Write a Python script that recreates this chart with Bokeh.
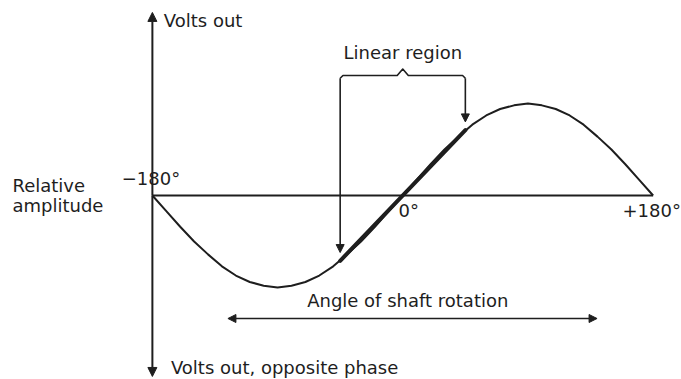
from bokeh.plotting import figure
from bokeh.models import ColumnDataSource, Range1d, Arrow, NormalHead
from bokeh.core.properties import value
from bokeh.embed import file_html
from bokeh.resources import INLINE

# ---- data ----
ANGLE_DEG = [-180, -170, -160, -150, -140, -130, -120, -110, -100, -90,
             -80, -70, -60, -50, -40, -30, -20, -10, 0,
             10, 20, 30, 40, 50, 60, 70, 80, 90,
             100, 110, 120, 130, 140, 150, 160, 170, 180]
AMPLITUDE = [0.00, -0.17, -0.34, -0.50, -0.64, -0.77, -0.87, -0.94, -0.98, -1.00,
             -0.98, -0.94, -0.87, -0.77, -0.64, -0.50, -0.34, -0.17, 0.00,
             0.17, 0.34, 0.50, 0.64, 0.77, 0.87, 0.94, 0.98, 1.00,
             0.98, 0.94, 0.87, 0.77, 0.64, 0.50, 0.34, 0.17, 0.00]
LINEAR_DEG = [-45, 45]
LINEAR_AMP = [-0.71, 0.71]
TICK_DEG = [-180, 0, 180]
TICK_LABELS = ["\u2212180\u00b0", "0\u00b0", "+180\u00b0"]
Y_LABEL = ["Relative", "amplitude"]
TOP_LABEL = "Volts out"
BOTTOM_LABEL = "Volts out, opposite phase"
REGION_LABEL = "Linear region"
X_LABEL = "Angle of shaft rotation"

INK = "#1e1e1e"
FONT = "DejaVu Sans"
FS = "18px"

p = figure(width=681, height=379, output_backend="svg", toolbar_location=None,
           x_range=Range1d(-289.2, 200.4), y_range=Range1d(-2.0, 2.1196),
           min_border=0, x_axis_type=None, y_axis_type=None)
p.outline_line_color = None
p.grid.visible = False
p.background_fill_color = "white"
p.border_fill_color = "white"

def head(s=8):
    return NormalHead(size=s, fill_color=INK, line_color=INK, line_width=1)

# baseline
p.line(x=[TICK_DEG[0], TICK_DEG[-1]], y=[0, 0], line_color=INK, line_width=2)

# vertical axis with arrows on both ends
p.add_layout(Arrow(x_start=-180, y_start=0, x_end=-180, y_end=1.99,
                   line_color=INK, line_width=2, end=head(9)))
p.add_layout(Arrow(x_start=-180, y_start=0, x_end=-180, y_end=-1.967,
                   line_color=INK, line_width=2, end=head(9)))

# curve
src = ColumnDataSource(dict(x=ANGLE_DEG, y=AMPLITUDE))
p.line("x", "y", source=src, line_color=INK, line_width=2, line_join="round")
# linear region (thick)
p.line(x=LINEAR_DEG, y=LINEAR_AMP, line_color=INK, line_width=4, line_cap="round")

# bracket
yt = 1.304
lx, rx = LINEAR_DEG
p.line(x=[lx, lx + 2, -4, 0, 4, rx - 2, rx], y=[yt - 0.03, yt, yt, yt + 0.07, yt, yt, yt - 0.03],
       line_color=INK, line_width=1.6, line_join="round")
p.add_layout(Arrow(x_start=lx, y_start=yt - 0.03, x_end=lx, y_end=LINEAR_AMP[0] + 0.09,
                   line_color=INK, line_width=1.6, end=head(8)))
p.add_layout(Arrow(x_start=rx, y_start=yt - 0.03, x_end=rx, y_end=LINEAR_AMP[1] + 0.09,
                   line_color=INK, line_width=1.6, end=head(8)))

# double arrow for angle of rotation
p.add_layout(Arrow(x_start=-125.7, y_start=-1.337, x_end=139.7, y_end=-1.337,
                   line_color=INK, line_width=1.6, start=head(8), end=head(8)))

def txt(x, y, s, align="left"):
    p.text(x=[x], y=[y], text=[s], text_font=value(FONT), text_font_size=FS,
           text_color=INK, text_align=align, text_baseline="middle")

txt(TICK_DEG[0] - 1, 0.185, TICK_LABELS[0], "center")
txt(TICK_DEG[1] - 3, -0.163, TICK_LABELS[1])
txt(TICK_DEG[2] - 22, -0.163, TICK_LABELS[2])
txt(-280.6, 0.109, Y_LABEL[0])
txt(-280.6, -0.109, Y_LABEL[1])
txt(-171.8, 1.902, TOP_LABEL)
txt(-166.7, -1.87, BOTTOM_LABEL)
txt(0, 1.554, REGION_LABEL, "center")
txt(3.6, -1.141, X_LABEL, "center")

open("out.html", "w").write(file_html(p, INLINE))
